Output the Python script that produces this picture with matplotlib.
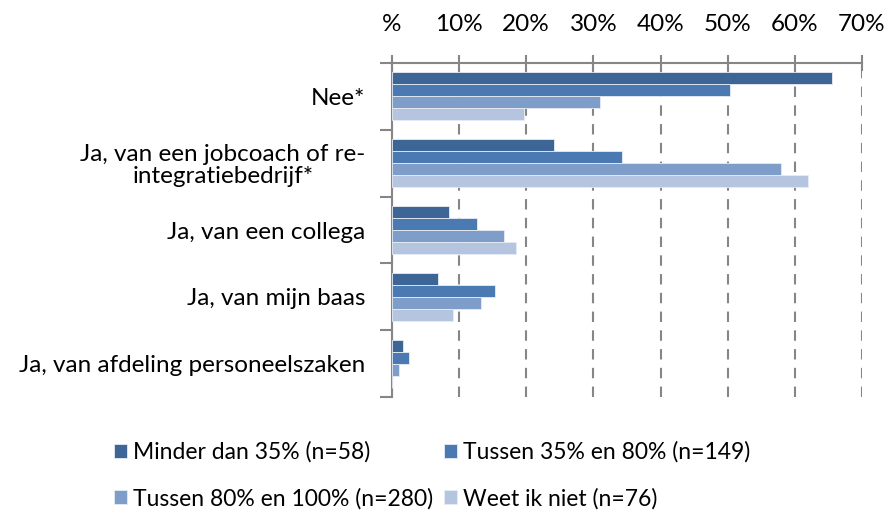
import numpy as np
import matplotlib
matplotlib.use('Agg')
import matplotlib.pyplot as plt

plt.rcParams['font.family'] = ['Lato', 'DejaVu Sans']

categories = ['Nee*', 'Ja, van een jobcoach of re-\nintegratiebedrijf*', 'Ja, van een collega',
              'Ja, van mijn baas', 'Ja, van afdeling personeelszaken']
series_names = ['Minder dan 35% (n=58)', 'Tussen 35% en 80% (n=149)',
                'Tussen 80% en 100% (n=280)', 'Weet ik niet (n=76)']
minder35 = [65.5, 24.1, 8.5, 6.9, 1.6]
tussen35_80 = [50.4, 34.2, 12.7, 15.4, 2.6]
tussen80_100 = [31.0, 57.9, 16.7, 13.2, 1.0]
weet_niet = [19.7, 61.9, 18.4, 9.1, 0.0]
tick_vals = [0, 10, 20, 30, 40, 50, 60, 70]
tick_labels = ['%', '10%', '20%', '30%', '40%', '50%', '60%', '70%']

colors = ['#3d6596', '#4a7ab1', '#7f9dc9', '#b5c5e0']
series = [minder35, tussen35_80, tussen80_100, weet_niet]
fs = 17.5
fs_leg = 16.5

fig = plt.figure(figsize=(8.9, 5.11), dpi=100)
ax = fig.add_axes([0.4404, 0.2231, 0.5281, 0.6536])

bh = 0.18
y = np.arange(len(categories))
for i, (vals, c, name) in enumerate(zip(series, colors, series_names)):
    ax.barh(y - 1.5 * bh + i * bh, vals, height=bh, color=c, edgecolor='#e6ecf5',
            linewidth=0.6, label=name, zorder=3)

ax.set_xlim(0, 70)
ax.set_ylim(len(categories) - 0.5, -0.5)
ax.xaxis.tick_top()
ax.set_xticks(tick_vals)
ax.set_xticklabels(tick_labels, fontsize=fs)
ax.tick_params(axis='x', direction='inout', length=12, width=1.5, color='#868686', pad=14)
ax.set_yticks(y)
ax.set_yticklabels(categories, fontsize=fs, multialignment='center', linespacing=1.05)
ax.set_yticks(np.arange(-0.5, len(categories), 1), minor=True)
ax.tick_params(axis='y', which='major', length=0, pad=19)
ax.tick_params(axis='y', which='minor', length=9, width=1.5, color='#868686')
ax.xaxis.grid(True, linestyle=(0, (5, 4)), color='#868686', linewidth=1.5, zorder=0)
for s in ['right', 'bottom']:
    ax.spines[s].set_visible(False)
for s in ['top', 'left']:
    ax.spines[s].set_color('#868686')
    ax.spines[s].set_linewidth(1.5)

# legend filled row by row like the original
handles, labels = ax.get_legend_handles_labels()
order = [0, 2, 1, 3]
fig.legend([handles[k] for k in order], [labels[k] for k in order], loc='upper left',
           bbox_to_anchor=(0.11, 0.168), ncol=2, frameon=False, fontsize=fs_leg,
           handlelength=0.56, handleheight=0.56, handletextpad=0.25,
           columnspacing=0.5, labelspacing=1.1, borderpad=0.2)

fig.savefig('out.png', dpi=100)
